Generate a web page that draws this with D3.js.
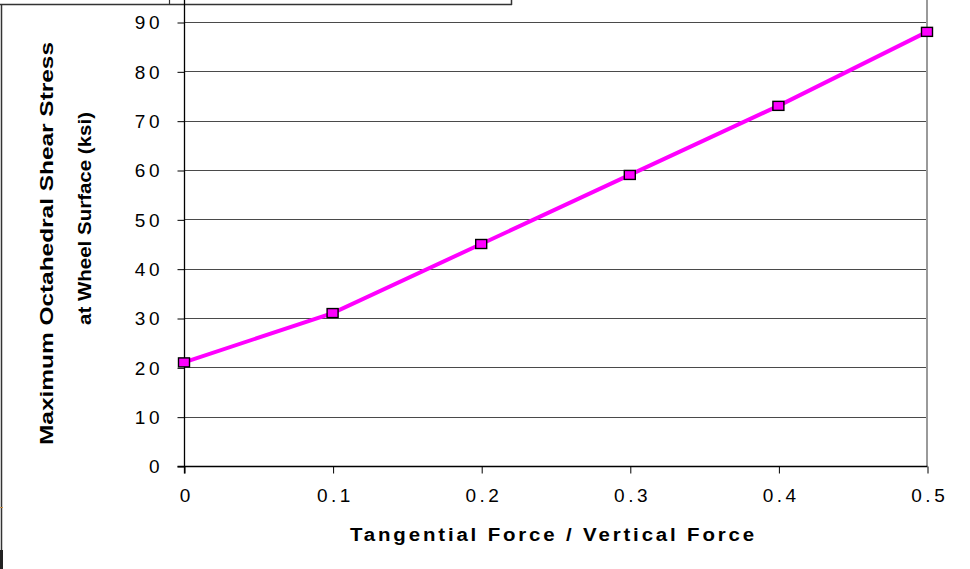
<!DOCTYPE html>
<html>
<head>
<meta charset="utf-8">
<script src="https://cdn.jsdelivr.net/npm/d3@7"></script>
<style>
  html, body { margin: 0; padding: 0; background: #fff; }
  svg { display: block; }
</style>
</head>
<body>
<svg id="chart" width="970" height="569"></svg>
<script>
// Octahedral shear stress vs. traction ratio
const ratios = [0, 0.1, 0.2, 0.3, 0.4, 0.5];
const stressKsi = [21, 31, 45, 59, 73, 88];
const xTicks = [0, 0.1, 0.2, 0.3, 0.4, 0.5];
const yTicks = [0, 10, 20, 30, 40, 50, 60, 70, 80, 90];
const xTitle = "Tangential Force / Vertical Force";
const yTitleLines = ["Maximum Octahedral Shear Stress", "at Wheel Surface (ksi)"];

const FONT = "Liberation Sans, Arial, sans-serif";
const svg = d3.select("#chart");
const plot = { left: 184, right: 927, top: 22, bottom: 466 };

const x = d3.scaleLinear().domain([0, 0.5]).range([plot.left, plot.right]);
const y = d3.scaleLinear().domain([0, 90]).range([plot.bottom, plot.top]);

// outer frame fragments
svg.append("line").attr("x1", 0).attr("x2", 512).attr("y1", 4.5).attr("y2", 4.5)
  .attr("stroke", "#333").attr("stroke-width", 1.5);
svg.append("line").attr("x1", 169.5).attr("x2", 169.5).attr("y1", 0).attr("y2", 5)
  .attr("stroke", "#333").attr("stroke-width", 1.2);
svg.append("line").attr("x1", 511.5).attr("x2", 511.5).attr("y1", 0).attr("y2", 5)
  .attr("stroke", "#333").attr("stroke-width", 1.5);
svg.append("line").attr("x1", 1.5).attr("x2", 1.5).attr("y1", 4).attr("y2", 569)
  .attr("stroke", "#333").attr("stroke-width", 1.5);
svg.append("line").attr("x1", 1.5).attr("x2", 1.5).attr("y1", 550).attr("y2", 569)
  .attr("stroke", "#222").attr("stroke-width", 3);
svg.append("line").attr("x1", 0).attr("x2", 3).attr("y1", 507.5).attr("y2", 507.5)
  .attr("stroke", "#c8904a").attr("stroke-width", 1);

// horizontal gridlines
svg.append("g").selectAll("line").data(yTicks.filter(d => d > 0)).join("line")
  .attr("x1", plot.left).attr("x2", plot.right)
  .attr("y1", d => Math.round(y(d)) + 0.5).attr("y2", d => Math.round(y(d)) + 0.5)
  .attr("stroke", "#4a4a4a").attr("stroke-width", 1.1);

// right plot border
svg.append("line").attr("x1", plot.right).attr("x2", plot.right)
  .attr("y1", 0).attr("y2", plot.bottom)
  .attr("stroke", "#9a9a9a").attr("stroke-width", 2);

// y axis
const TICK_SPACING = 3.5;
const yAxis = d3.axisLeft(y).tickValues(yTicks).tickSize(7).tickPadding(18)
  .tickFormat(d3.format("d"));
const gy = svg.append("g").attr("transform", `translate(${plot.left + 0.5},0.5)`).call(yAxis);
gy.select(".domain").remove();
gy.append("line").attr("x1", 0).attr("x2", 0).attr("y1", -1).attr("y2", plot.bottom + 7)
  .attr("stroke", "#000").attr("stroke-width", 1.3);
gy.selectAll(".tick line").attr("stroke", "#000");
gy.selectAll(".tick text")
  .attr("font-family", FONT)
  .attr("font-size", 19).attr("letter-spacing", TICK_SPACING).attr("fill", "#000")
  .attr("dx", TICK_SPACING).attr("dy", "0.34em");

// x axis
const xAxis = d3.axisBottom(x).tickValues(xTicks).tickSize(7).tickPadding(15)
  .tickFormat(d => d === 0 ? "0" : d3.format(".1f")(d));
const gx = svg.append("g").attr("transform", `translate(0.5,${plot.bottom + 0.5})`).call(xAxis);
gx.select(".domain").remove();
gx.append("line").attr("x1", plot.left - 7).attr("x2", plot.right).attr("y1", 0).attr("y2", 0)
  .attr("stroke", "#000").attr("stroke-width", 1.5);
gx.selectAll(".tick line").attr("stroke", "#000");
gx.selectAll(".tick text")
  .attr("font-family", FONT)
  .attr("font-size", 19).attr("letter-spacing", TICK_SPACING).attr("fill", "#000")
  .attr("dx", TICK_SPACING / 2);

// axis titles
svg.append("text")
  .attr("x", 553.5).attr("y", 541)
  .attr("text-anchor", "middle")
  .attr("font-family", FONT)
  .attr("font-size", 18).attr("font-weight", "bold")
  .attr("letter-spacing", 2.5)
  .attr("textLength", 407).attr("lengthAdjust", "spacingAndGlyphs")
  .text(xTitle);

svg.append("text")
  .attr("transform", "translate(53,243.5) rotate(-90)")
  .attr("text-anchor", "middle")
  .attr("font-family", FONT)
  .attr("font-size", 17.5).attr("font-weight", "bold")
  .attr("textLength", 403).attr("lengthAdjust", "spacingAndGlyphs")
  .text(yTitleLines[0]);

svg.append("text")
  .attr("transform", "translate(91,218.5) rotate(-90)")
  .attr("text-anchor", "middle")
  .attr("font-family", FONT)
  .attr("font-size", 17.5).attr("font-weight", "bold")
  .attr("textLength", 213).attr("lengthAdjust", "spacingAndGlyphs")
  .text(yTitleLines[1]);

// series line
const pts = ratios.map((r, i) => [r, stressKsi[i]]);
svg.append("path").datum(pts)
  .attr("fill", "none").attr("stroke", "#ff00ff").attr("stroke-width", 4)
  .attr("d", d3.line().x(d => x(d[0])).y(d => y(d[1])));

// square markers
svg.append("g").selectAll("rect").data(pts).join("rect")
  .attr("x", d => x(d[0]) - 5.5).attr("y", d => y(d[1]) - 4.5)
  .attr("width", 11).attr("height", 9)
  .attr("fill", "#ff00ff").attr("stroke", "#000").attr("stroke-width", 1.4);
</script>
</body>
</html>
